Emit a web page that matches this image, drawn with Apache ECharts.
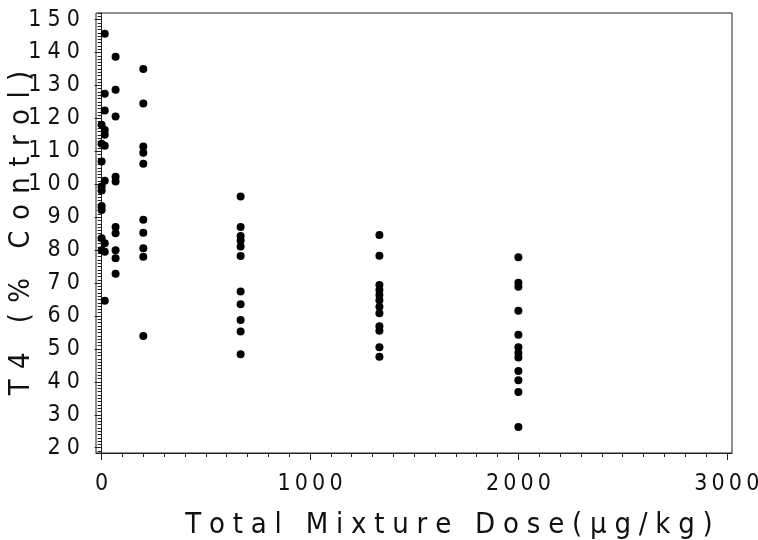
<!DOCTYPE html>
<html>
<head>
<meta charset="utf-8">
<script src="https://cdn.jsdelivr.net/npm/echarts@6/dist/echarts.min.js"></script>
<style>
  html, body { margin: 0; padding: 0; background: #fff; }
  #chart { width: 758px; height: 540px; }
</style>
</head>
<body>
<div id="chart"></div>
<script>
// Dose levels (µg/kg) and T4 responses (% of control) per dose group
const doseLevels = [0, 15, 67, 200, 667, 1333, 2000];
const t4Dose0    = [118.1, 112.3, 106.9, 99.3, 98.1, 93.4, 92.2, 83.6, 80.0];
const t4Dose15   = [145.7, 127.5, 122.4, 116.5, 115.0, 111.7, 101.1, 82.1, 79.5, 64.6];
const t4Dose67   = [138.7, 128.7, 120.6, 102.3, 100.8, 87.0, 85.1, 80.0, 77.5, 72.8];
const t4Dose200  = [135.0, 124.5, 111.5, 109.6, 106.2, 89.2, 85.3, 80.6, 78.0, 53.9];
const t4Dose667  = [96.3, 87.0, 84.3, 82.9, 81.1, 78.2, 67.4, 63.6, 58.8, 55.3, 48.4];
const t4Dose1333 = [84.6, 78.3, 69.4, 67.9, 66.4, 64.8, 62.8, 60.8, 56.9, 55.5, 50.5, 47.6];
const t4Dose2000 = [77.8, 70.1, 68.9, 61.6, 54.3, 50.5, 48.8, 47.4, 43.3, 40.5, 36.9, 26.3];

// Axis ticks
const xMajorTicks = [0, 1000, 2000, 3000];
const yMajorTicks = [20, 30, 40, 50, 60, 70, 80, 90, 100, 110, 120, 130, 140, 150];

const xTitle = 'Total Mixture Dose(μg/kg)';
const yTitle = 'T4 (% Control)';

const groups = [t4Dose0, t4Dose15, t4Dose67, t4Dose200, t4Dose667, t4Dose1333, t4Dose2000];
const points = [];
groups.forEach((vals, i) => vals.forEach(v => points.push([doseLevels[i], v])));

// minor ticks: every 100 on x, every 1 on y
const xMinorTicks = [];
for (let v = 0; v <= 3000; v += 100) if (v % 1000 !== 0) xMinorTicks.push(v);
const yMinorTicks = [];
for (let v = 19; v <= 152; v += 1) if (v % 10 !== 0) yMinorTicks.push(v);

const X_MIN = -27, X_MAX = 3025, Y_MIN = 18.4, Y_MAX = 152.0;

// wide tracking for the plotter-style lettering
const spaced = (s, gap) => String(s).split('').join(gap || '\u2009');

const TICK_FONT = "'Liberation Sans Narrow', 'DejaVu Sans Condensed', sans-serif";
const FONT = "'DejaVu Sans Condensed', 'Liberation Sans Narrow', sans-serif";
const INK = '#111';

const chart = echarts.init(document.getElementById('chart'), null, { renderer: 'canvas' });
chart.setOption({
  animation: false,
  backgroundColor: '#fff',
  grid: { left: 96, right: 26, top: 13, bottom: 87, show: true, borderColor: '#222', borderWidth: 1,
    containLabel: false, outerBoundsMode: 'none' },
  xAxis: [{
    type: 'value', position: 'bottom', min: X_MIN, max: X_MAX,
    splitLine: { show: false },
    axisLine: { lineStyle: { color: '#222', width: 1 } },
    axisTick: { customValues: xMajorTicks, length: 7, lineStyle: { color: '#222' } },
    axisLabel: { customValues: xMajorTicks, formatter: v => spaced(v), margin: 20,
      color: INK, fontFamily: TICK_FONT, fontSize: 23 },
    name: spaced(xTitle, '\u2009\u200A'), nameLocation: 'middle', nameGap: 58, nameMoveOverlap: false,
    nameTextStyle: { color: INK, fontFamily: FONT, fontSize: 29, padding: [0, 0, 0, 70] }
  }, {
    type: 'value', position: 'bottom', min: X_MIN, max: X_MAX,
    splitLine: { show: false }, axisLine: { show: false },
    axisTick: { customValues: xMinorTicks, length: 4, lineStyle: { color: '#222' } },
    axisLabel: { show: false }
  }],
  yAxis: [{
    type: 'value', position: 'left', min: Y_MIN, max: Y_MAX,
    splitLine: { show: false },
    axisLine: { lineStyle: { color: '#222', width: 1 } },
    axisTick: { customValues: yMajorTicks, length: 7, lineStyle: { color: '#222' } },
    axisLabel: { customValues: yMajorTicks, formatter: v => spaced(v, '\u2009\u200A'), margin: 16,
      color: INK, fontFamily: TICK_FONT, fontSize: 23 },
    name: spaced(yTitle, '\u2009\u2009'), nameLocation: 'middle', nameGap: 60, nameRotate: 90,
    nameMoveOverlap: false,
    nameTextStyle: { color: INK, fontFamily: FONT, fontSize: 29 }
  }, {
    type: 'value', position: 'left', min: Y_MIN, max: Y_MAX,
    splitLine: { show: false }, axisLine: { show: false },
    axisTick: { customValues: yMinorTicks, length: 4, lineStyle: { color: '#222' } },
    axisLabel: { show: false }
  }],
  series: [{
    type: 'scatter',
    xAxisIndex: 0, yAxisIndex: 0,
    data: points,
    symbol: 'circle', symbolSize: 8,
    itemStyle: { color: '#000', opacity: 1 }
  }]
});
</script>
</body>
</html>
